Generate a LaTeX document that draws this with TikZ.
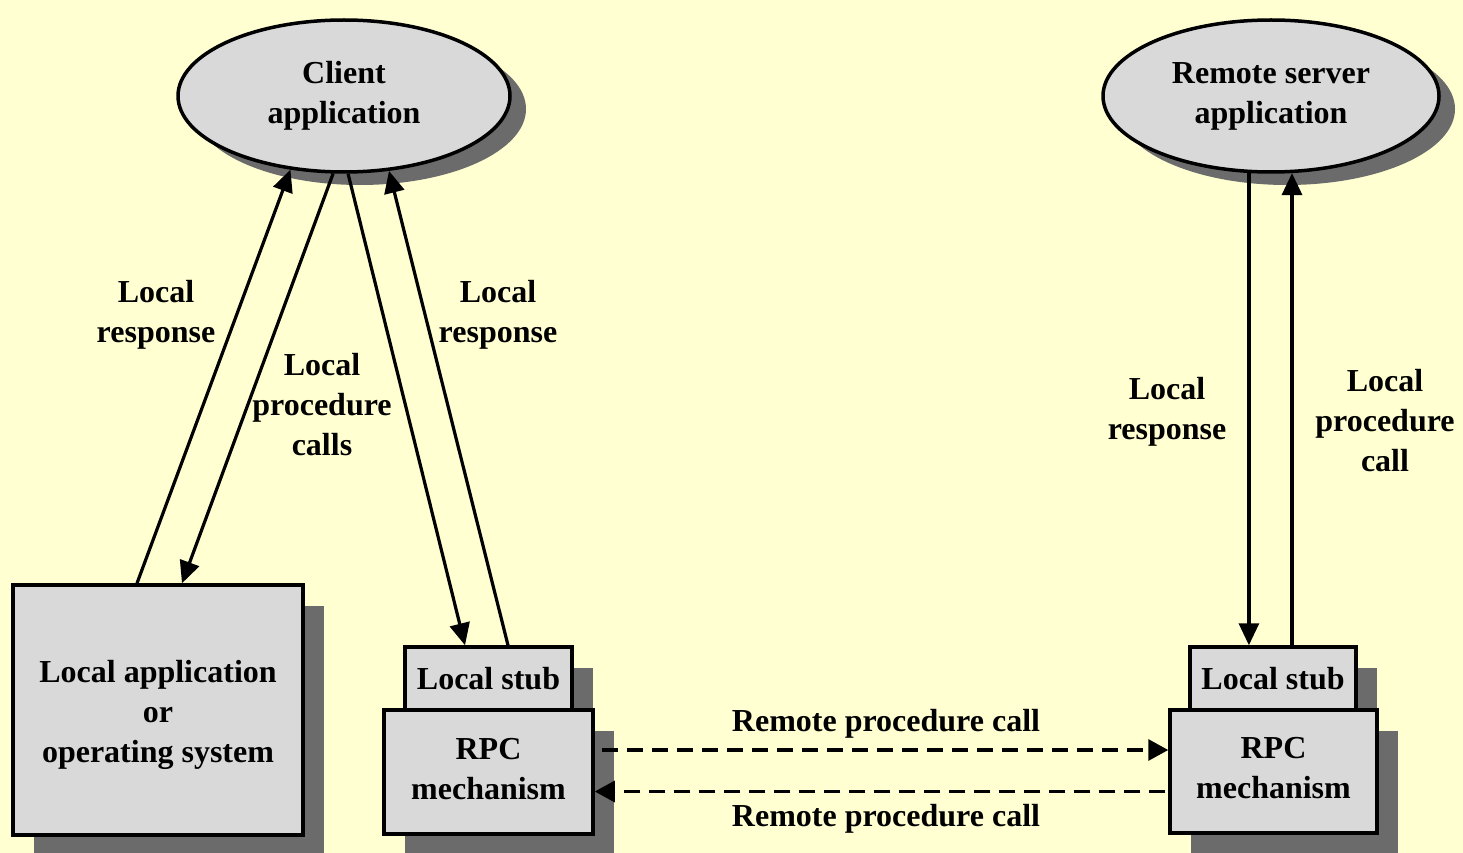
\documentclass[tikz,border=0pt]{standalone}
\usepackage{fontspec}
\setmainfont{Liberation Serif}
\usetikzlibrary{shapes.geometric,arrows.meta,calc}
\definecolor{bgyellow}{HTML}{FFFFD2}
\definecolor{boxgray}{HTML}{D9D9D9}
\definecolor{shgray}{HTML}{6B6B6B}
\begin{document}
\begin{tikzpicture}[x=1pt,y=-1pt,
  txt/.style={font=\fontsize{32}{40}\selectfont\bfseries, align=center, text=black},
  boxshadow/.style={preaction={fill=shgray, transform canvas={xshift=21pt,yshift=-21pt}}},
  ellshadow/.style={preaction={fill=shgray, transform canvas={xshift=16pt,yshift=-13pt}}},
  box/.style={txt, rectangle, draw=black, line width=3.5pt, fill=boxgray, inner sep=0pt, boxshadow},
  ell/.style={txt, ellipse, draw=black, line width=3.5pt, fill=boxgray, inner sep=0pt, ellshadow},
  conn/.style={line width=3.2pt, -{Triangle[length=22pt,width=20pt]}},
  dconn/.style={line width=3.2pt, dash pattern=on 16pt off 9pt, -{Triangle[length=20pt,width=21pt]}},
  lbl/.style={txt}
]
\fill[bgyellow] (0,0) rectangle (1463,853);
\useasboundingbox (0,0) rectangle (1463,853);

% nodes
\node[ell, minimum width=332pt, minimum height=152pt] (cl) at (344,96) {Client\\application};
\node[ell, minimum width=336pt, minimum height=152pt] (rs) at (1271,96) {Remote server\\application};

\node[box, minimum width=290pt, minimum height=250pt,
      label={[txt, yshift=-5pt]center:Local application\\or\\operating system}] (lapp) at (158,710) {};

\node[box, minimum width=167pt, minimum height=63pt] (stubL) at (488.5,678.5) {Local stub};
\node[box, minimum width=209pt, minimum height=124pt,
      label={[txt, yshift=3pt]center:RPC\\mechanism}] (rpcL) at (488.5,772) {};

\node[box, minimum width=166pt, minimum height=63pt] (stubR) at (1273,678.5) {Local stub};
\node[box, minimum width=207pt, minimum height=123pt,
      label={[txt, yshift=3pt]center:RPC\\mechanism}] (rpcR) at (1273.5,771.5) {};

% connectors, client side
\draw[conn] ([xshift=-21pt]lapp.north) -- (cl.234);
\draw[conn] (cl.262) -- ([xshift=24pt]lapp.north);
\draw[conn] (cl.273) -- ([xshift=-23.5pt]stubL.north);
\draw[conn] ([xshift=19.5pt]stubL.north) -- (cl.301);

% connectors, server side
\draw[conn] (rs.254) -- (rs.254 |- stubR.north);
\coordinate (upR) at ([xshift=19pt]stubR.north);
\draw[conn] (upR) -- (upR |- rs.286);

% dashed remote calls
\draw[dconn] ([xshift=7pt,yshift=22pt]rpcL.east) -- ([yshift=22pt]rpcL.east -| rpcR.west);
\draw[dconn] ([xshift=-3pt,yshift=-20pt]rpcR.west) -- ([yshift=-20pt]rpcR.west -| rpcL.east);

% labels
\node[lbl] (l1) at (156,315) {Local\\response};
\node[lbl] (l2) at (322,405) {Local\\procedure\\calls};
\node[lbl] (l3) at (498,315) {Local\\response};
\node[lbl] (l4) at (1167,412) {Local\\response};
\node[lbl] (l5) at (1385,421) {Local\\procedure\\call};
\node[lbl] (r1) at (886,724) {Remote procedure call};
\node[lbl] (r2) at (886,819) {Remote procedure call};
\end{tikzpicture}
\end{document}
